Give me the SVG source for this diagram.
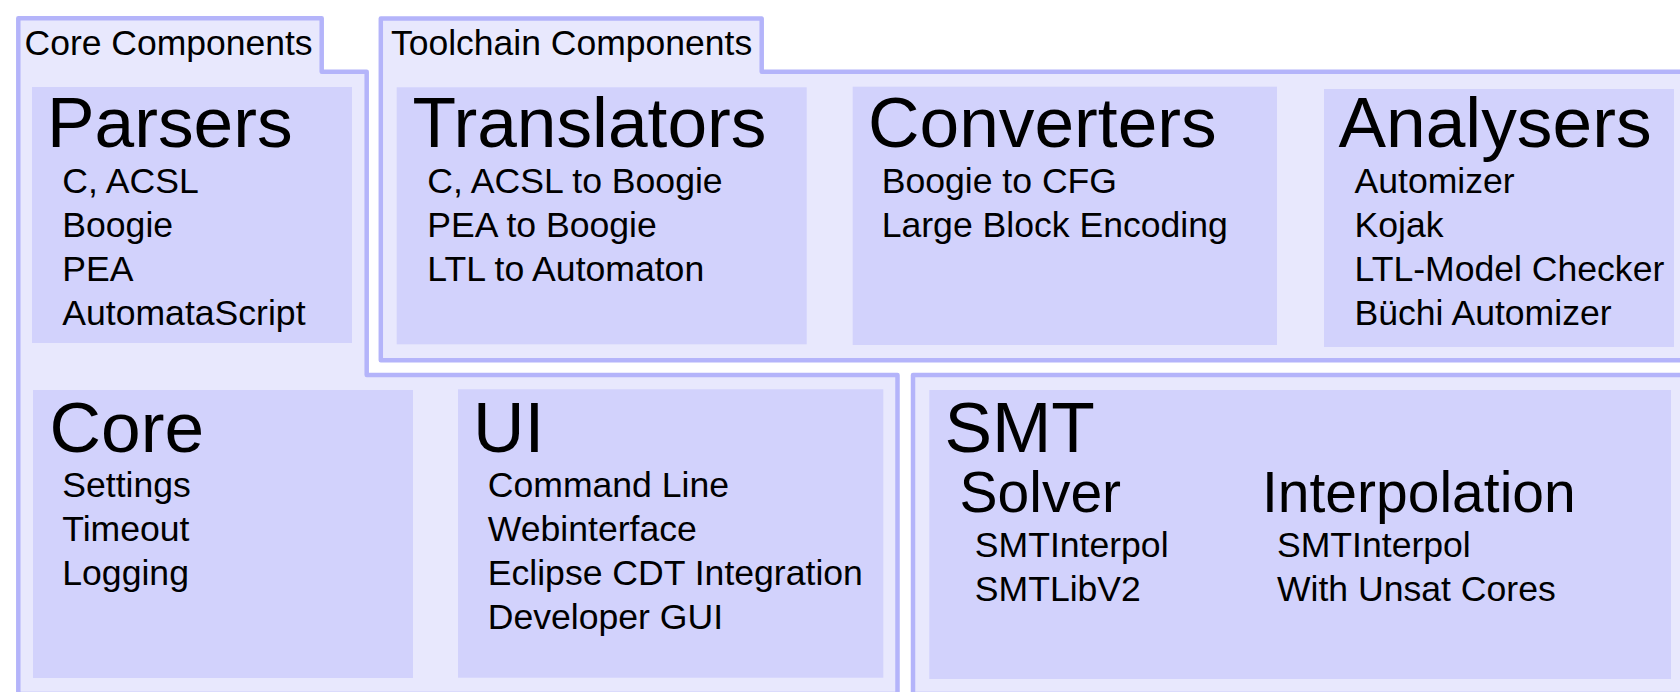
<svg xmlns="http://www.w3.org/2000/svg" width="1680" height="692" viewBox="0 0 1680 692">
<style>
.frame{fill:#e8e8fd;stroke:#b4b4fa;stroke-width:4.5;stroke-linejoin:round}
.box{fill:#d2d2fc}
text{font-family:"Liberation Sans",Arial,sans-serif;fill:#000}
.lbl{font-size:35.5px}
.title{font-size:71.3px}
.sub{font-size:57px}
.item{font-size:35.6px}
</style>
<rect width="1680" height="692" fill="#ffffff"/>
<g id="core-components">
<polygon class="frame" points="18.3,18.3 321.7,18.3 321.7,71.7 366.7,71.7 366.7,375 897.5,375 897.5,694 18.3,694"/>
<text class="lbl" x="24.5" y="55">Core Components</text>
</g>
<g id="toolchain-components">
<polygon class="frame" points="380.8,18.5 761.7,18.5 761.7,71.7 1690,71.7 1690,360.2 380.8,360.2"/>
<text class="lbl" x="391" y="55">Toolchain Components</text>
</g>
<g id="smt-frame">
<polygon class="frame" points="913,375 1690,375 1690,694 913,694"/>
</g>
<g id="parsers">
<rect class="box" x="32" y="87" width="320" height="256"/>
<text class="title" x="47" y="147">Parsers</text>
<text class="item" x="62.3" y="193">C, ACSL</text>
<text class="item" x="62.3" y="237">Boogie</text>
<text class="item" x="62.3" y="281">PEA</text>
<text class="item" x="62.3" y="325">AutomataScript</text>
</g>
<g id="translators">
<rect class="box" x="396.7" y="87.3" width="410" height="257"/>
<text class="title" x="412.5" y="147">Translators</text>
<text class="item" x="427.3" y="193">C, ACSL to Boogie</text>
<text class="item" x="427.3" y="237">PEA to Boogie</text>
<text class="item" x="427.3" y="281">LTL to Automaton</text>
</g>
<g id="converters">
<rect class="box" x="852.7" y="86.7" width="424.3" height="258.3"/>
<text class="title" x="868" y="147">Converters</text>
<text class="item" x="881.7" y="193">Boogie to CFG</text>
<text class="item" x="881.7" y="237">Large Block Encoding</text>
</g>
<g id="analysers">
<rect class="box" x="1324" y="89" width="350" height="258"/>
<text class="title" x="1338.5" y="147">Analysers</text>
<text class="item" x="1354.5" y="193">Automizer</text>
<text class="item" x="1354.5" y="237">Kojak</text>
<text class="item" x="1354.5" y="281">LTL-Model Checker</text>
<text class="item" x="1354.5" y="325">Büchi Automizer</text>
</g>
<g id="core">
<rect class="box" x="33" y="390" width="380" height="288"/>
<text class="title" x="49.5" y="451.5">Core</text>
<text class="item" x="62.3" y="497">Settings</text>
<text class="item" x="62.3" y="541">Timeout</text>
<text class="item" x="62.3" y="585">Logging</text>
</g>
<g id="ui">
<rect class="box" x="458" y="389.3" width="425.3" height="288.4"/>
<text class="title" x="473" y="451.5">UI</text>
<text class="item" x="487.8" y="497">Command Line</text>
<text class="item" x="487.8" y="541">Webinterface</text>
<text class="item" x="487.8" y="585">Eclipse CDT Integration</text>
<text class="item" x="487.8" y="629">Developer GUI</text>
</g>
<g id="smt">
<rect class="box" x="929.3" y="390" width="741.7" height="289"/>
<text class="title" x="944.4" y="451.5">SMT</text>
<text class="sub" x="959.5" y="512">Solver</text>
<text class="item" x="974.8" y="556.7">SMTInterpol</text>
<text class="item" x="974.8" y="600.7">SMTLibV2</text>
<text class="sub" x="1262" y="512">Interpolation</text>
<text class="item" x="1277" y="556.7">SMTInterpol</text>
<text class="item" x="1277" y="600.7">With Unsat Cores</text>
</g>
<g id="connectors"/>
</svg>
